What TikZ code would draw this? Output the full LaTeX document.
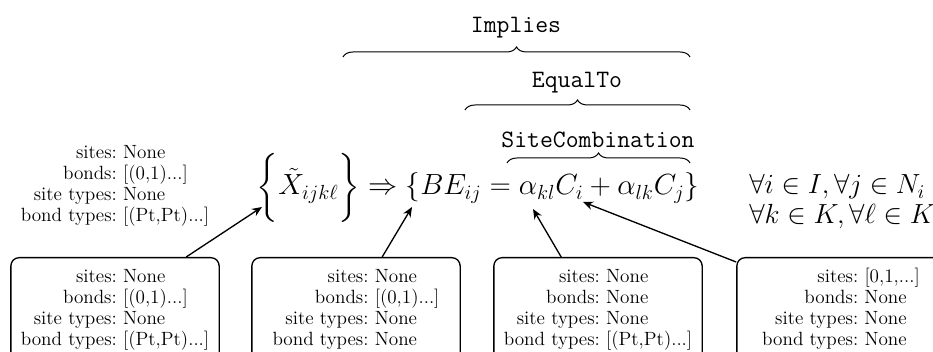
\RequirePackage{fix-cm}
\documentclass[tikz,border=0pt]{standalone}
\usepackage{amsmath}
\usetikzlibrary{decorations.pathreplacing,calc,arrows.meta}

\newcommand{\infotab}[4]{%
  \begin{tabular}{@{}r@{\ }l@{}}
    sites: & #1\\
    bonds: & #2\\
    site types: & #3\\
    bond types: & #4
  \end{tabular}}

\begin{document}
\begin{tikzpicture}[x=0.6pt,y=0.6pt,
    info/.style={font=\fontsize{11.5}{12.6}\selectfont},
    infobox/.style={info, draw, rounded corners=5pt, minimum width=125pt, inner xsep=5pt, inner ysep=6pt, line width=0.8pt, anchor=north},
    overbrace/.style={decorate, decoration={brace, amplitude=6pt}, line width=0.6pt},
    pointer/.style={-{Stealth[length=6pt,width=5pt]}, line width=0.8pt},
    tag/.style={font=\fontsize{15}{18}\selectfont\ttfamily, anchor=base},
    bigmath/.style={font=\fontsize{17.5}{21}\selectfont},
    rangemath/.style={font=\fontsize{16.6}{20}\selectfont, anchor=base west, inner sep=0pt}]

    \path[use as bounding box, clip] (0,0) rectangle (933,352);

    % the rule
    \node [bigmath, anchor=base] (rule) at (478,157)
        {$\biggl\{\tilde{X}_{ijk\ell}\biggr\} \Rightarrow \{BE_{ij} = \alpha_{kl}C_i + \alpha_{lk}C_j\}$};
    \node [rangemath] (rangeij) at (749,158) {$\forall i \in I, \forall j \in N_i$};
    \node [rangemath] (rangekl) at (749,128) {$\forall k \in K, \forall \ell \in K$};

    % braces over the rule
    \coordinate (impl-l) at (343,295);
    \coordinate (impl-r) at (690,295);
    \coordinate (eq-l) at (465,242);
    \coordinate (eq-r) at (690,242);
    \coordinate (sc-l) at (507,189);
    \coordinate (sc-r) at (690,189);
    \draw [overbrace] (impl-l) -- (impl-r);
    \draw [overbrace] (eq-l) -- (eq-r);
    \draw [overbrace] (sc-l) -- (sc-r);
    \node [tag] (implies) at (516,319) {Implies};
    \node [tag] (equalto) at (577,264) {EqualTo};
    \node [tag] (sitecomb) at (598,204) {SiteCombination};

    % filters
    \node [info] (lhsinfo) at (115,166) {\infotab{None}{[(0,1)...]}{None}{[(Pt,Pt)...]}};
    \node [infobox] (xbox) at (115,95) {\infotab{None}{[(0,1)...]}{None}{[(Pt,Pt)...]}};
    \node [infobox] (bebox) at (356,95) {\infotab{None}{[(0,1)...]}{None}{None}};
    \node [infobox] (abox) at (598,95) {\infotab{None}{None}{None}{[(Pt,Pt)...]}};
    \node [infobox] (cbox) at (841,95) {\infotab{[0,1,...]}{None}{None}{None}};

    \coordinate (xtip) at (262,145);
    \coordinate (betip) at (412,145);
    \coordinate (atip) at (533,143);
    \coordinate (ctip) at (583,150);
    \draw [pointer] ($(xbox.north west)+(176,0)$) -- (xtip);
    \draw [pointer] ($(bebox.north west)+(131,0)$) -- (betip);
    \draw [pointer] ($(abox.north west)+(68,0)$) -- (atip);
    \draw [pointer] ($(cbox.north west)+(0,-5)$) -- (ctip);

\end{tikzpicture}
\end{document}
